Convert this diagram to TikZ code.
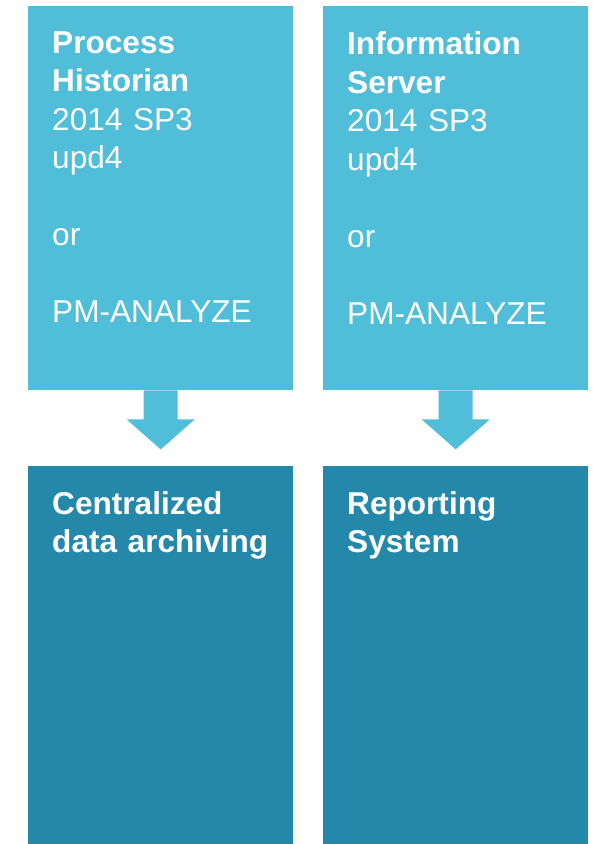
\documentclass[tikz,border=0pt]{standalone}
\usepackage{fontspec}
\setmainfont{Liberation Sans}
\usetikzlibrary{calc}
\definecolor{lightbox}{RGB}{80,190,216}
\definecolor{darkbox}{RGB}{35,136,170}
\tikzset{
  box/.style={rectangle, inner sep=0pt, minimum width=265pt, anchor=north west},
  topbox/.style={box, fill=lightbox, minimum height=384pt},
  botbox/.style={box, fill=darkbox, minimum height=378pt},
  label/.style={anchor=north west, inner sep=0pt, text=white, align=left, text width=240pt,
    font=\fontsize{31.6}{38.5}\selectfont},
  downarrow/.style={fill=lightbox}
}
\begin{document}
\begin{tikzpicture}[x=1pt,y=-1pt]
\useasboundingbox (0,0) rectangle (593,844);
\node[topbox] (ph) at (28,6) {};
\node[topbox] (is) at (323,6) {};
\node[botbox] (cd) at (28,466) {};
\node[botbox] (rs) at (323,466) {};
\node[label] (phT) at (52,31.5) {\textbf{Process}\\\textbf{Historian}\\2014 SP3\\upd4\\[38.5pt]or\\[38.5pt]PM-ANALYZE};
\node[label] (isT) at (347,31.5) {\textbf{Information}\\\textbf{Server}\\2014 SP3\\upd4\\[38.5pt]or\\[38.5pt]PM-ANALYZE};
\node[label] (cdT) at (52,491) {\textbf{Centralized}\\\textbf{data archiving}};
\node[label] (rsT) at (347,491) {\textbf{Reporting}\\\textbf{System}};
\foreach \a in {ph,is}{
  \fill[downarrow] ($(\a.south)+(-17,0)$) -- ($(\a.south)+(-17,29)$) -- ($(\a.south)+(-34,29)$)
    -- ($(\a.south)+(0,59)$) -- ($(\a.south)+(34,29)$) -- ($(\a.south)+(17,29)$)
    -- ($(\a.south)+(17,0)$) -- cycle;
}
\end{tikzpicture}
\end{document}
